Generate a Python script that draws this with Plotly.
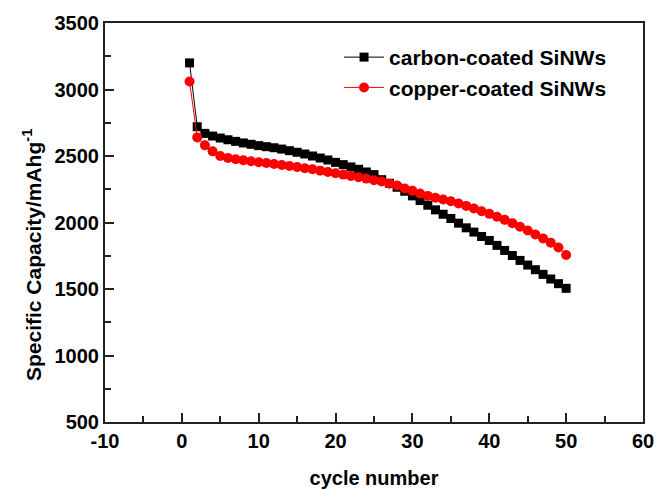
import plotly.graph_objects as go

cycles = list(range(1, 51))
carbon = [3200, 2720, 2670, 2650, 2635, 2622, 2610, 2598, 2588, 2578,
          2570, 2562, 2552, 2540, 2528, 2515, 2500, 2485, 2470, 2452,
          2435, 2418, 2400, 2380, 2360, 2322, 2295, 2265, 2235, 2200,
          2165, 2130, 2095, 2062, 2030, 1995, 1960, 1928, 1895, 1865,
          1828, 1790, 1752, 1715, 1680, 1645, 1610, 1575, 1540, 1505]
copper = [3060, 2640, 2580, 2535, 2500, 2485, 2475, 2468, 2460, 2453,
          2447, 2440, 2432, 2425, 2417, 2408, 2400, 2390, 2380, 2370,
          2360, 2350, 2340, 2330, 2318, 2308, 2292, 2278, 2255, 2238,
          2218, 2200, 2186, 2173, 2160, 2143, 2125, 2105, 2085, 2065,
          2043, 2020, 1995, 1968, 1940, 1910, 1880, 1848, 1812, 1756]

x_ticks = [-10, 0, 10, 20, 30, 40, 50, 60]
x_tick_text = ["-10", "0", "10", "20", "30", "40", "50", "60"]
y_ticks = [500, 1000, 1500, 2000, 2500, 3000, 3500]

font = "Arial, Liberation Sans, sans-serif"

fig = go.Figure()
fig.add_trace(go.Scatter(x=cycles, y=carbon, mode="lines+markers",
                         name="carbon-coated SiNWs",
                         line=dict(color="black", width=1),
                         marker=dict(symbol="square", size=9, color="black")))
fig.add_trace(go.Scatter(x=cycles, y=copper, mode="lines+markers",
                         name="copper-coated SiNWs",
                         line=dict(color="red", width=1),
                         marker=dict(symbol="circle", size=10, color="red")))

axis_common = dict(showline=True, linecolor="#222", linewidth=2, mirror=True,
                   ticks="inside", ticklen=9, tickwidth=1.5, tickcolor="#222",
                   showgrid=False, zeroline=False, automargin=False,
                   tickfont=dict(family=font, size=20, color="black", weight="bold"))

fig.update_xaxes(range=[-10, 60], tickmode="array", tickvals=x_ticks, ticktext=x_tick_text,
                 minor=dict(ticks="inside", ticklen=6, dtick=5, tick0=0, tickwidth=1.5, tickcolor="#222"),
                 title=dict(text="cycle number", standoff=22,
                            font=dict(family=font, size=20, color="black", weight="bold")),
                 **axis_common)
fig.update_yaxes(range=[500, 3500], tickmode="array", tickvals=y_ticks,
                 minor=dict(ticks="inside", ticklen=6, dtick=250, tick0=0, tickwidth=1.5, tickcolor="#222"),
                 **axis_common)

# y-axis title as rotated annotation (positioned slightly below plot centre, as in the reference)
fig.add_annotation(text="Specific Capacity/mAhg<sup>-1</sup>", textangle=-90,
                   xref="paper", yref="paper", x=(32 - 105) / 538, y=(422 - 255) / 399,
                   xanchor="center", yanchor="middle", showarrow=False,
                   font=dict(family=font, size=21, color="black", weight="bold"))

fig.update_layout(width=657, height=489,
                  margin=dict(l=105, r=14, t=23, b=67),
                  paper_bgcolor="white", plot_bgcolor="white",
                  legend=dict(x=0.435, y=0.965, xanchor="left", yanchor="top",
                              bgcolor="rgba(0,0,0,0)", itemwidth=40,
                              font=dict(family=font, size=21, color="black", weight="bold"),
                              tracegroupgap=6))

fig.write_html("out.html")
